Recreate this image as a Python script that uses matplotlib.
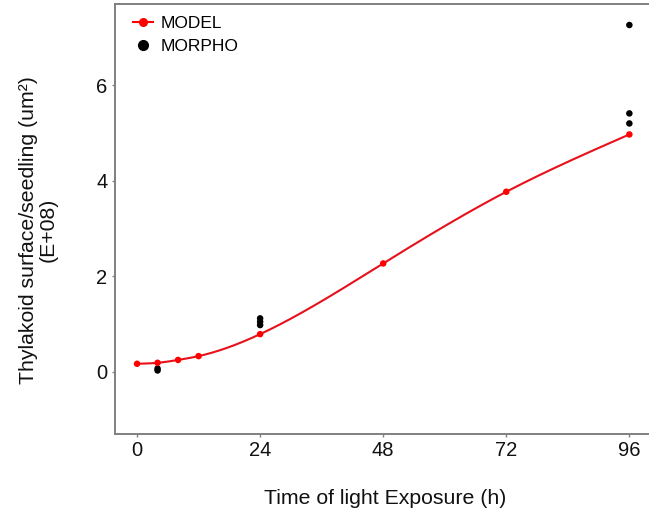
import numpy as np
import matplotlib
matplotlib.use("Agg")
import matplotlib.pyplot as plt
from matplotlib.lines import Line2D

plt.rcParams['font.family'] = ['Liberation Sans', 'DejaVu Sans']

# Data
model_t = [0, 4, 8, 12, 24, 48, 72, 96]
model_v = [0.17, 0.19, 0.25, 0.33, 0.79, 2.27, 3.77, 4.97]
morpho_t = [4, 4, 24, 24, 24, 96, 96, 96]
morpho_v = [0.03, 0.07, 0.98, 1.05, 1.12, 5.20, 5.41, 7.26]
xticks = [0, 24, 48, 72, 96]
yticks = [0, 2, 4, 6]


def natural_spline(x, y, xs):
    x = np.asarray(x, float); y = np.asarray(y, float)
    n = len(x)
    h = np.diff(x)
    A = np.zeros((n, n)); b = np.zeros(n)
    A[0, 0] = 1; A[-1, -1] = 1
    for i in range(1, n - 1):
        A[i, i - 1] = h[i - 1]
        A[i, i] = 2 * (h[i - 1] + h[i])
        A[i, i + 1] = h[i]
        b[i] = 3 * ((y[i + 1] - y[i]) / h[i] - (y[i] - y[i - 1]) / h[i - 1])
    c = np.linalg.solve(A, b)
    out = np.empty_like(xs)
    for k, xv in enumerate(xs):
        i = min(max(np.searchsorted(x, xv) - 1, 0), n - 2)
        d = (c[i + 1] - c[i]) / (3 * h[i])
        bb = (y[i + 1] - y[i]) / h[i] - h[i] * (2 * c[i] + c[i + 1]) / 3
        dx = xv - x[i]
        out[k] = y[i] + bb * dx + c[i] * dx ** 2 + d * dx ** 3
    return out


fig = plt.figure(figsize=(6.49, 5.12), dpi=100)
ax = fig.add_axes([115 / 649, 78 / 512, (655 - 115) / 649, 430 / 512])

xs = np.linspace(model_t[0], model_t[-1], 400)
ax.plot(xs, natural_spline(model_t, model_v, xs), color='#e8101a', lw=1.5, zorder=2)
ax.scatter(model_t, model_v, color='#ff0000', s=22, zorder=3, edgecolors='none')
ax.scatter(morpho_t, morpho_v, color='black', s=22, zorder=2.5, edgecolors='none')

ax.set_xlim(-4.3, 101)
ax.set_ylim(-1.3, 7.7)
ax.set_xticks(xticks)
ax.set_yticks(yticks)
ax.tick_params(axis='both', labelsize=14.5, length=2, width=1, color='#808080',
               labelcolor='#111111')
ax.tick_params(axis='x', pad=3)
ax.tick_params(axis='y', pad=3.5)
for s in ['left', 'bottom', 'top']:
    ax.spines[s].set_color('#808080')
    ax.spines[s].set_linewidth(1.4)
ax.spines['right'].set_visible(False)

ax.set_xlabel('Time of light Exposure (h)', fontsize=15.3, labelpad=21, color='#111111')
ax.set_ylabel('Thylakoid surface/seedling (um²)\n(E+08)', fontsize=15.3, labelpad=28,
              color='#111111', linespacing=1.04)
ax.yaxis.label.set_y(0.475)

handles = [
    Line2D([], [], color='#ff0000', marker='o', markersize=5.5, lw=1.5),
    Line2D([], [], color='black', marker='o', markersize=7, lw=0),
]
ax.legend(handles, ['MODEL', 'MORPHO'], loc='upper left', frameon=False,
          fontsize=12.5, handlelength=1.2, handletextpad=0.4, labelspacing=0.45,
          borderaxespad=0.3, bbox_to_anchor=(0.01, 1.0))

fig.savefig('out.png', dpi=100)
